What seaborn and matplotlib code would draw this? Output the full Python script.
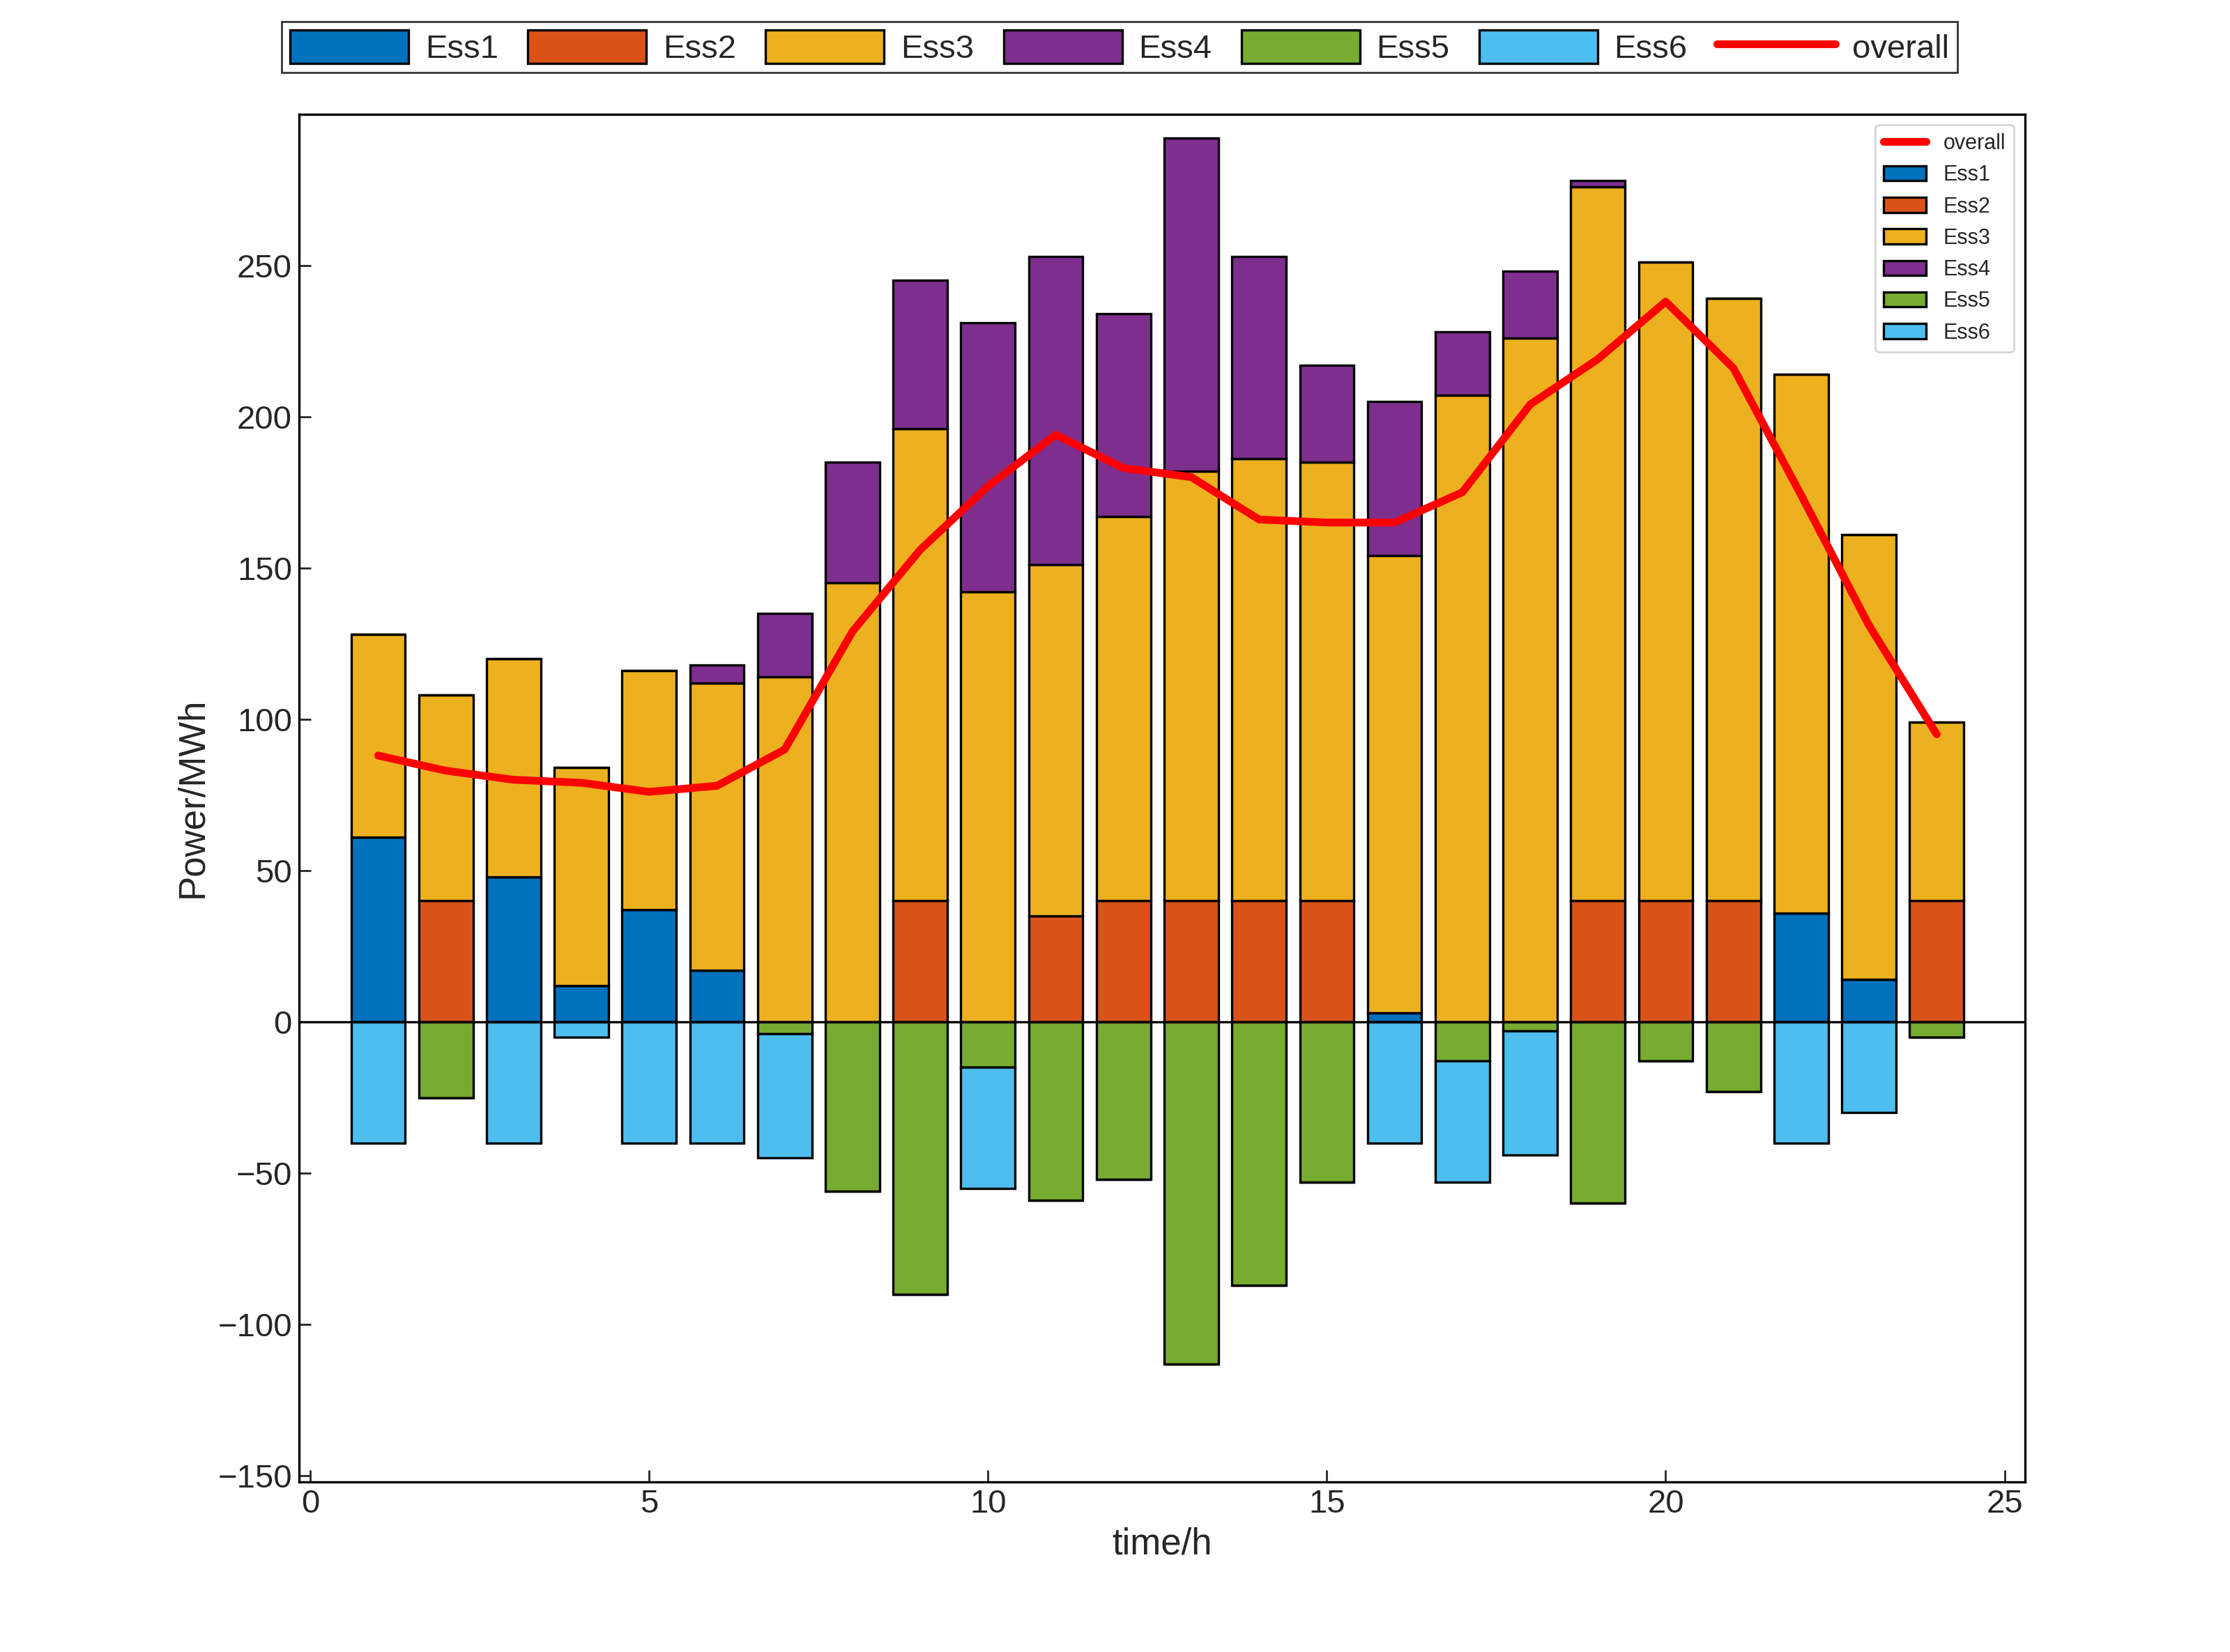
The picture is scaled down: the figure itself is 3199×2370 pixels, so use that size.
import matplotlib
matplotlib.use("Agg")
import matplotlib.pyplot as plt
import seaborn as sns
import numpy as np
import pandas as pd

hours = list(range(1, 25))
ess1 = [61,0,48,12,37,17,0,0,0,0,0,0,0,0,0,3,0,0,0,0,0,36,14,0]
ess2 = [0,40,0,0,0,0,0,0,40,0,35,40,40,40,40,0,0,0,40,40,40,0,0,40]
ess3 = [67,68,72,72,79,95,114,145,156,142,116,127,142,146,145,151,207,226,236,211,199,178,147,59]
ess4 = [0,0,0,0,0,6,21,40,49,89,102,67,110,67,32,51,21,22,2,0,0,0,0,0]
ess5 = [0,-25,0,0,0,0,-4,-56,-90,-15,-59,-52,-113,-87,-53,0,-13,-3,-60,-13,-23,0,0,-5]
ess6 = [-40,0,-40,-5,-40,-40,-41,0,0,-40,0,0,0,0,0,-40,-40,-41,0,0,0,-40,-30,0]
overall = [88,83,80,79,76,78,90,129,156,177,194,183,180,166,165,165,175,204,219,238,216,174,131,95]

colors = ["#0072BD","#D95319","#EDB120","#7E2F8E","#77AC30","#4DBEEE"]
sns.set_theme(style="white")
plt.rcParams["font.family"] = "Arial" if False else "Liberation Sans"

fig = plt.figure(figsize=(15.995, 11.85), dpi=200)
ax = fig.add_axes([0.134, 0.103, 0.774, 0.828])

x = np.array(hours)
w = 0.8
kw = dict(width=w, edgecolor="black", linewidth=1.2)
ax.bar(x, ess1, color=colors[0], label="Ess1", **kw)
ax.bar(x, ess2, bottom=ess1, color=colors[1], label="Ess2", **kw)
b3 = np.array(ess1) + np.array(ess2)
ax.bar(x, ess3, bottom=b3, color=colors[2], label="Ess3", **kw)
b4 = b3 + np.array(ess3)
ax.bar(x, ess4, bottom=b4, color=colors[3], label="Ess4", **kw)
ax.bar(x, ess5, color=colors[4], label="Ess5", **kw)
ax.bar(x, ess6, bottom=ess5, color=colors[5], label="Ess6", **kw)
sns.lineplot(x=hours, y=overall, ax=ax, color="red", linewidth=4, label="overall")
ax.axhline(0, color="black", linewidth=1.2)

ax.set_xlim(-0.17, 25.3)
ax.set_ylim(-152, 300)
ax.set_xticks([0,5,10,15,20,25])
ax.set_yticks([-150,-100,-50,0,50,100,150,200,250])
ax.tick_params(direction="in", labelsize=17, length=6, width=1, top=False, right=False, left=True, bottom=True)
for s in ax.spines.values():
    s.set_color("black"); s.set_linewidth(1.2)
ax.set_xlabel("time/h", fontsize=19)
ax.set_ylabel("Power/MWh", fontsize=19)

h, l = ax.get_legend_handles_labels()
order = ["Ess1","Ess2","Ess3","Ess4","Ess5","Ess6","overall"]
hd = dict(zip(l, h))
fig.legend([hd[k] for k in order], order, loc="upper center", bbox_to_anchor=(0.502, 0.997),
           ncol=7, fontsize=17, frameon=True, fancybox=False, edgecolor="black",
           handlelength=3.6, handleheight=1.2, columnspacing=0.9, handletextpad=0.5, borderpad=0.25)
fig.savefig("out.png", dpi=200, facecolor="white")
